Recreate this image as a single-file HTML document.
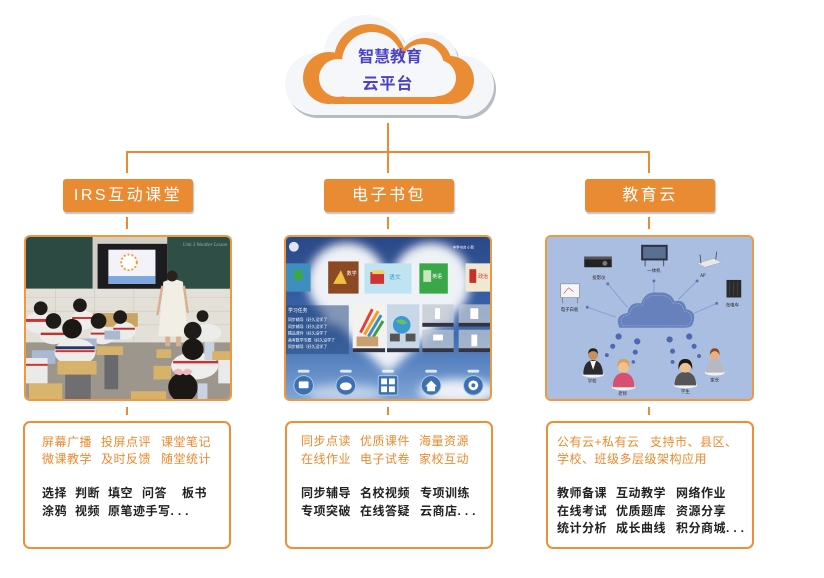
<!DOCTYPE html>
<html><head><meta charset="utf-8">
<style>
html,body{margin:0;padding:0;background:#fff;}
body{width:824px;height:578px;position:relative;overflow:hidden;font-family:"Liberation Sans","Noto Sans CJK SC",sans-serif;}
.btn{position:absolute;top:179px;height:33px;width:130px;background:#E98B33;border-radius:3px;box-shadow:1px 2px 1px rgba(120,120,130,0.45);color:#fff;font-size:16px;letter-spacing:2.5px;text-align:center;line-height:33px;font-family:"Liberation Sans","Noto Sans CJK SC",sans-serif;}
.img{position:absolute;top:235px;height:166px;width:208px;box-sizing:border-box;border:2px solid #EE9840;border-radius:6px;overflow:hidden;background:#ddd;}
.img svg{display:block;}
.box{position:absolute;top:421px;height:128px;width:208px;box-sizing:border-box;border:2px solid #EC9038;border-radius:7px;background:#fff;}
.t{position:absolute;font-size:12px;line-height:14px;letter-spacing:0.5px;white-space:nowrap;font-family:"Liberation Sans","Noto Sans CJK SC",sans-serif;}
.o{color:#EB8A2E;}
.k{color:#222;font-weight:bold;}
.d{letter-spacing:4px;}
</style></head><body>

<svg width="824" height="578" style="position:absolute;left:0;top:0" viewBox="0 0 824 578">
  <!-- cloud shadow -->
  <g fill="#B7BBC4" transform="translate(2,3)">
    <rect x="300" y="70" width="178" height="45" rx="20"/>
    <circle cx="316" cy="84" r="31"/>
    <circle cx="365" cy="57" r="42"/>
    <circle cx="428" cy="62" r="30"/>
    <circle cx="464" cy="86" r="30"/>
  </g>
  <g fill="#F5F6FA">
    <rect x="300" y="70" width="178" height="45" rx="20"/>
    <circle cx="316" cy="84" r="31"/>
    <circle cx="365" cy="57" r="42"/>
    <circle cx="428" cy="62" r="30"/>
    <circle cx="464" cy="86" r="30"/>
  </g>
  <g fill="#E98C33">
    <rect x="320" y="70" width="140" height="34" rx="15"/>
    <circle cx="329" cy="78" r="26"/>
    <circle cx="370" cy="60" r="36"/>
    <circle cx="425" cy="65" r="27"/>
    <circle cx="450" cy="80" r="24"/>
  </g>
  <g fill="#F6F7FB">
    <rect x="335" y="70" width="110" height="27" rx="12"/>
    <circle cx="338" cy="78" r="19"/>
    <circle cx="372" cy="62" r="30"/>
    <circle cx="422" cy="66" r="22"/>
    <circle cx="438" cy="78" r="18"/>
  </g>
  <text x="390" y="62" text-anchor="middle" font-size="16" font-weight="bold" fill="#4B42C8" font-family="Liberation Sans, Noto Sans CJK SC, sans-serif">智慧教育</text>
  <text x="388" y="89" text-anchor="middle" font-size="16" font-weight="bold" fill="#4B42C8" letter-spacing="1" font-family="Liberation Sans, Noto Sans CJK SC, sans-serif">云平台</text>

  <!-- connectors -->
  <g stroke="#E98B33" stroke-width="2" fill="none">
    <line x1="388" y1="123" x2="388" y2="173"/>
    <line x1="126" y1="152" x2="650" y2="152"/>
    <line x1="127" y1="152" x2="127" y2="173"/>
    <line x1="649" y1="152" x2="649" y2="173"/>
    <line x1="127" y1="217" x2="127" y2="229"/>
    <line x1="388" y1="217" x2="388" y2="229"/>
    <line x1="649" y1="217" x2="649" y2="229"/>
    <line x1="127" y1="407" x2="127" y2="415"/>
    <line x1="388" y1="407" x2="388" y2="415"/>
    <line x1="649" y1="407" x2="649" y2="415"/>
  </g>
</svg>

<div class="btn" style="left:63px;">IRS互动课堂</div>
<div class="btn" style="left:324px;">电子书包</div>
<div class="btn" style="left:585px;">教育云</div>

<!-- Left image: classroom -->
<div class="img" style="left:24px;">
<svg width="204" height="162" viewBox="0 0 208 166" preserveAspectRatio="none">
  <rect width="208" height="166" fill="#DCD8CF"/>
  <rect x="0" y="0" width="68" height="53" fill="#2D4A42"/>
  <rect x="68" y="0" width="76" height="56" fill="#D2CEC4"/>
  <rect x="144" y="0" width="64" height="57" fill="#2F4E46"/>
  <text x="160" y="9" font-size="5" fill="#9FB0A8" font-family="Liberation Serif, serif" font-style="italic">Unit 3  Weather  Lesson</text>
  <rect x="73" y="7" width="71" height="47" fill="#1C1C20"/>
  <rect x="84" y="13" width="48" height="35" fill="#F2F2F8"/>
  <rect x="84" y="40" width="48" height="8" fill="#7FA8E0"/>
  <circle cx="105" cy="26" r="8" fill="#FFF" stroke="#E8A040" stroke-width="2" stroke-dasharray="2 2"/>
  <rect x="0" y="53" width="208" height="57" fill="#E3E0D8"/>
  <g stroke="#CCC8BE" stroke-width="0.6"><line x1="0" y1="62" x2="208" y2="62"/><line x1="0" y1="76" x2="208" y2="76"/><line x1="0" y1="90" x2="208" y2="90"/><line x1="30" y1="53" x2="30" y2="110"/><line x1="70" y1="53" x2="70" y2="110"/><line x1="110" y1="53" x2="110" y2="110"/></g>
  <rect x="0" y="108" width="208" height="58" fill="#9C968C"/>
  <!-- teacher -->
  <path d="M140 46 Q150 41 160 46 L165 102 L135 102 Z" fill="#F1EEE5"/>
  <circle cx="149" cy="40" r="5.5" fill="#2A201C"/>
  <rect x="142" y="102" width="5" height="10" fill="#D8B090"/>
  <rect x="153" y="102" width="5" height="10" fill="#D8B090"/>
  <line x1="139" y1="50" x2="134" y2="80" stroke="#D8B090" stroke-width="2.5"/>
  <line x1="161" y1="50" x2="165" y2="78" stroke="#D8B090" stroke-width="2.5"/>
  <!-- back desks -->
  <rect x="68" y="78" width="46" height="14" fill="#C9A463"/>
  <!-- students left -->
  <ellipse cx="14" cy="88" rx="15" ry="11" fill="#EEEDEB"/><rect x="0" y="84" width="28" height="3" fill="#C33"/>
  <circle cx="15" cy="73" r="7" fill="#1F1B19"/>
  <ellipse cx="58" cy="85" rx="12" ry="10" fill="#EEEDEB"/><rect x="47" y="82" width="22" height="2" fill="#C33"/>
  <circle cx="55" cy="70" r="7" fill="#1F1B19"/>
  <ellipse cx="28" cy="101" rx="14" ry="9" fill="#ECECEA"/><rect x="15" y="98" width="26" height="2.5" fill="#B33"/>
  <circle cx="28" cy="86" r="8" fill="#1F1B19"/>
  <ellipse cx="78" cy="101" rx="13" ry="9" fill="#ECECEA"/><rect x="66" y="98" width="24" height="2" fill="#B33"/>
  <circle cx="74" cy="86" r="8" fill="#1F1B19"/>
  <ellipse cx="100" cy="96" rx="12" ry="9" fill="#ECECEA"/><rect x="89" y="93" width="22" height="2" fill="#B33"/>
  <circle cx="96" cy="82" r="7" fill="#1F1B19"/>
  <rect x="52" y="104" width="20" height="12" fill="#A9B9D2"/>
  <rect x="80" y="96" width="16" height="9" fill="#A9B9D2"/>
  <rect x="6" y="116" width="24" height="14" fill="#A9B9D2"/>
  <ellipse cx="50" cy="118" rx="21" ry="14" fill="#EDEDEB"/><rect x="30" y="112" width="40" height="3" fill="#2A3560"/><rect x="30" y="116" width="40" height="2" fill="#C33"/>
  <circle cx="47" cy="94" r="10" fill="#1A1715"/>
  <rect x="0" y="124" width="22" height="26" fill="#EAEAE8"/><rect x="0" y="130" width="22" height="2" fill="#C33"/>
  <rect x="32" y="127" width="40" height="14" fill="#D6B26A"/>
  <rect x="40" y="141" width="26" height="25" fill="#6F6E70"/>
  <rect x="72" y="112" width="27" height="9" fill="#D6B26A"/>
  <rect x="80" y="121" width="14" height="35" fill="#6A6A6E"/>
  <rect x="3" y="150" width="34" height="16" fill="#D8B46C"/>
  <rect x="107" y="158" width="36" height="8" fill="#D6B26A"/>
  <rect x="130" y="132" width="18" height="14" fill="#D6B26A"/>
  <rect x="133" y="115" width="15" height="9" fill="#D6B26A"/>
  <!-- students right -->
  <circle cx="180" cy="81" r="6" fill="#1F1B19"/>
  <ellipse cx="185" cy="98" rx="14" ry="9" fill="#ECECEA"/>
  <circle cx="170" cy="96" r="9" fill="#1F1B19"/>
  <ellipse cx="172" cy="132" rx="24" ry="14" fill="#EEEEEC"/><rect x="150" y="127" width="50" height="2.5" fill="#C33"/>
  <circle cx="170" cy="115" r="11" fill="#1A1715"/>
  <rect x="182" y="108" width="10" height="18" fill="#C8D2E2"/>
  <rect x="190" y="117" width="18" height="9" fill="#D6B26A"/>
  <rect x="196" y="126" width="12" height="24" fill="#EAEAE8"/>
  <circle cx="160" cy="154" r="15" fill="#1A1715"/>
  <path d="M150 138 Q156 132 160 138 Q164 132 170 138 Q164 144 160 140 Q156 144 150 138Z" fill="#F0B8B8"/>
  <rect x="175" y="150" width="10" height="16" fill="#C8D2E2"/>
</svg>
</div>

<!-- Middle image: e-bag -->
<div class="img" style="left:284px;">
<svg width="204" height="162" viewBox="0 0 208 166" preserveAspectRatio="none">
  <defs>
    <linearGradient id="mg" x1="0" y1="0" x2="0" y2="1"><stop offset="0" stop-color="#2A4888"/><stop offset="0.6" stop-color="#3D6AB0"/><stop offset="1" stop-color="#7EA6D6"/></linearGradient>
    <filter id="bl" x="-20%" y="-20%" width="140%" height="140%"><feGaussianBlur stdDeviation="5"/></filter>
  </defs>
  <rect width="208" height="166" fill="url(#mg)"/>
  <g filter="url(#bl)" fill="#EEF1F6">
    <circle cx="62" cy="46" r="40"/>
    <circle cx="148" cy="46" r="40"/>
    <path d="M24 62 L104 140 L186 62 Z"/>
    <rect x="40" y="40" width="130" height="50"/>
    <ellipse cx="175" cy="158" rx="40" ry="12"/>
    <ellipse cx="60" cy="160" rx="40" ry="9" opacity="0.6"/>
  </g>
  <circle cx="8" cy="10" r="5" fill="#fff" opacity="0.85"/>
  <text x="170" y="12" font-size="3.5" fill="#fff" font-family="Noto Sans CJK SC, sans-serif">中学书台   小新</text>
  <!-- book tiles -->
  <rect x="0" y="27" width="25" height="29" fill="#3E8EC0"/><rect x="8" y="34" width="9" height="10" fill="#3AA848"/>
  <rect x="43" y="25" width="31" height="33" fill="#8B4A22"/><path d="M48 48 L56 34 L62 48 Z" fill="#F0C040"/>
  <text x="62" y="39" font-size="5" fill="#fff" font-family="Noto Sans CJK SC, sans-serif">数学</text>
  <rect x="80" y="27" width="48" height="31" fill="#BFE3F0"/><rect x="86" y="36" width="14" height="12" fill="#C33"/><rect x="88" y="34" width="12" height="4" fill="#F0D060"/>
  <text x="105" y="43" font-size="6" fill="#3A9AC8" font-family="Noto Sans CJK SC, sans-serif">语文</text>
  <rect x="136" y="27" width="29" height="31" fill="#3AA848"/><rect x="140" y="34" width="8" height="12" fill="#C8E8C0"/>
  <text x="149" y="42" font-size="5" fill="#fff" font-family="Noto Sans CJK SC, sans-serif">英语</text>
  <rect x="183" y="27" width="25" height="29" fill="#F0E8D0"/><rect x="187" y="33" width="7" height="14" fill="#C8302A"/>
  <text x="196" y="42" font-size="5" fill="#C8302A" font-family="Noto Sans CJK SC, sans-serif">政治</text>
  <!-- left panel -->
  <rect x="0" y="70" width="64" height="50" fill="#2A4A80" opacity="0.55"/>
  <g font-size="4" fill="#fff" font-family="Noto Sans CJK SC, sans-serif">
    <text x="2" y="77" font-size="5">学习任务</text>
    <text x="2" y="86">同步辅导（好久没学了</text>
    <text x="2" y="93">同步辅导（好久没学了</text>
    <text x="2" y="100">精品课件（好久没学了</text>
    <text x="2" y="107">高考数学专题（好久没学了</text>
    <text x="2" y="114">同步辅导（好久没学了</text>
  </g>
  <!-- middle tiles -->
  <rect x="68" y="69" width="33" height="49" fill="#F4F2EE"/>
  <g stroke-width="3"><line x1="76" y1="98" x2="88" y2="74" stroke="#E04040"/><line x1="80" y1="100" x2="94" y2="76" stroke="#F0A020"/><line x1="84" y1="102" x2="97" y2="80" stroke="#3A8AD0"/><line x1="88" y1="104" x2="99" y2="86" stroke="#40A040"/></g>
  <rect x="72" y="102" width="22" height="10" fill="#C8A070"/>
  <rect x="103" y="69" width="33" height="49" fill="#C8D8E6"/>
  <circle cx="118" cy="90" r="9" fill="#3A9AD0"/><path d="M112 86 Q118 82 124 88 Q118 92 112 86Z" fill="#6AC060"/>
  <rect x="106" y="99" width="10" height="8" fill="#555"/><rect x="122" y="99" width="10" height="8" fill="#555"/>
  <g fill="#C0C8D4" opacity="0.75">
    <rect x="139" y="69" width="32" height="23"/><rect x="176" y="69" width="32" height="23"/>
    <rect x="139" y="95" width="32" height="23"/><rect x="176" y="95" width="32" height="23"/>
  </g>
  <g fill="#fff"><rect x="188" y="73" width="8" height="11"/><rect x="150" y="100" width="10" height="6"/><rect x="189" y="100" width="6" height="12"/><rect x="152" y="73" width="5" height="11"/></g>
  <rect x="68" y="114" width="33" height="4" fill="#334"/><rect x="103" y="114" width="33" height="4" fill="#334"/>
  <rect x="139" y="88" width="32" height="4" fill="#334"/><rect x="176" y="88" width="32" height="4" fill="#334"/>
  <rect x="139" y="114" width="32" height="4" fill="#334"/><rect x="176" y="114" width="32" height="4" fill="#334"/>
  <!-- nav -->
  <g fill="#3E70B0" stroke="#A8C8EC" stroke-width="1">
    <circle cx="18" cy="152" r="10"/><circle cx="61" cy="152" r="10"/><circle cx="148" cy="152" r="10"/><circle cx="191" cy="152" r="10"/>
  </g>
  <rect x="94" y="142" width="20" height="20" rx="2" fill="#3E70B0" stroke="#A8C8EC"/>
  <g fill="#fff">
    <rect x="13" y="148" width="10" height="7" rx="1"/>
    <ellipse cx="61" cy="153" rx="6" ry="4"/>
    <path d="M142 153 L148 147 L154 153 L152 153 L152 158 L144 158 L144 153Z"/>
    <circle cx="191" cy="152" r="5"/>
    <rect x="97" y="145" width="6" height="6"/><rect x="105" y="145" width="6" height="6"/><rect x="97" y="153" width="6" height="6"/><rect x="105" y="153" width="6" height="6"/>
  </g>
  <circle cx="191" cy="152" r="2" fill="#3E70B0"/>
  <g fill="#fff" opacity="0.8"><rect x="12" y="136" width="12" height="3" rx="1.5"/><rect x="55" y="136" width="12" height="3" rx="1.5"/><rect x="98" y="136" width="12" height="3" rx="1.5"/><rect x="142" y="136" width="12" height="3" rx="1.5"/><rect x="185" y="136" width="12" height="3" rx="1.5"/></g>
</svg>
</div>

<!-- Right image: education cloud -->
<div class="img" style="left:545px;width:209px;">
<svg width="205" height="162" viewBox="0 0 209 166" preserveAspectRatio="none">
  <rect width="209" height="166" fill="#AABEE2"/>
  <g stroke="#7F98CC" stroke-width="0.8">
    <line x1="70" y1="82" x2="41" y2="72"/>
    <line x1="82" y1="72" x2="62" y2="48"/>
    <line x1="109" y1="60" x2="109" y2="45"/>
    <line x1="134" y1="64" x2="153" y2="45"/>
    <line x1="146" y1="80" x2="173" y2="68"/>
  </g>
  <g fill="#5A74B8">
    <circle cx="41" cy="72" r="1.5"/><circle cx="62" cy="48" r="1.5"/><circle cx="109" cy="45" r="1.5"/><circle cx="153" cy="45" r="1.5"/><circle cx="173" cy="68" r="1.5"/>
  </g>
  <path d="M74 93 Q68 80 82 78 Q84 66 96 68 Q100 55 114 57 Q126 56 130 66 Q140 63 142 74 Q153 76 149 88 Q148 93 140 93 Z" fill="#6681BC"/>
  <path d="M77 91 Q72 81 84 80 Q86 69 97 70 Q101 58 114 60 Q125 59 128 68 Q138 66 140 76 Q150 78 146 88 Q145 91 139 91 Z" fill="none" stroke="#9EB2DC" stroke-width="0.6" stroke-dasharray="1.5 1"/>
  <g fill="#5068B0">
    <circle cx="73" cy="102" r="3.2"/><circle cx="92" cy="107" r="3.2"/><circle cx="67" cy="112" r="2.6"/><circle cx="90" cy="118" r="2.6"/><circle cx="61" cy="121" r="2"/><circle cx="88" cy="128" r="1.8"/>
    <circle cx="125" cy="105" r="3.2"/><circle cx="145" cy="102" r="3.2"/><circle cx="128" cy="117" r="2.6"/><circle cx="150" cy="112" r="2.6"/><circle cx="128" cy="128" r="2"/><circle cx="155" cy="122" r="2"/>
  </g>
  <!-- devices -->
  <rect x="14" y="48" width="19" height="14" fill="#F6F6F8" stroke="#888" stroke-width="0.6"/>
  <path d="M17 58 L22 52 L27 56" stroke="#D04040" stroke-width="0.6" fill="none"/>
  <line x1="16" y1="62" x2="16" y2="68" stroke="#666" stroke-width="0.6"/><line x1="31" y1="62" x2="31" y2="68" stroke="#666" stroke-width="0.6"/>
  <rect x="38" y="20" width="28" height="11" fill="#222"/><rect x="38" y="20" width="28" height="3" fill="#555"/><circle cx="59" cy="27" r="2.5" fill="#777"/>
  <rect x="96" y="8" width="27" height="16" fill="#2A3040"/><rect x="98" y="10" width="23" height="12" fill="#5A7090"/>
  <line x1="100" y1="24" x2="100" y2="30" stroke="#333" stroke-width="0.8"/><line x1="119" y1="24" x2="119" y2="30" stroke="#333" stroke-width="0.8"/>
  <path d="M153 27 L170 22 L178 26 L161 31 Z" fill="#E8E8EC" stroke="#999" stroke-width="0.4"/>
  <line x1="157" y1="27" x2="156" y2="18" stroke="#444" stroke-width="0.8"/><line x1="172" y1="23" x2="173" y2="15" stroke="#444" stroke-width="0.8"/>
  <rect x="183" y="44" width="15" height="18" fill="#2A2A2A"/><g stroke="#555" stroke-width="0.5"><line x1="186" y1="46" x2="186" y2="60"/><line x1="190" y1="46" x2="190" y2="60"/><line x1="194" y1="46" x2="194" y2="60"/></g>
  <g font-size="4.5" fill="#222" font-family="Noto Sans CJK SC, sans-serif" text-anchor="middle">
    <text x="23" y="76">电子白板</text>
    <text x="53" y="43">投影仪</text>
    <text x="109" y="36">一体机</text>
    <text x="159" y="41">AP</text>
    <text x="189" y="71">充电车</text>
    <text x="46" y="149">学校</text>
    <text x="77" y="162">老师</text>
    <text x="141" y="160">学生</text>
    <text x="171" y="148">家长</text>
  </g>
  <!-- people -->
  <ellipse cx="47" cy="141" rx="11" ry="3" fill="#F2F2F2"/>
  <path d="M37 141 Q37 127 47 126 Q57 127 57 141 Z" fill="#2A2A30"/>
  <path d="M44 127 L47 136 L50 127 Z" fill="#fff"/>
  <circle cx="47" cy="121" r="5" fill="#C89060"/><path d="M42 120 Q42 114 47 114 Q52 114 52 120 Q50 117 47 117 Q44 117 42 120Z" fill="#222"/>
  <ellipse cx="78" cy="154" rx="12" ry="3" fill="#F2F2F2"/>
  <path d="M67 154 Q67 140 78 139 Q89 140 89 154 Z" fill="#D85070"/>
  <circle cx="78" cy="133" r="6" fill="#F0C090"/><path d="M72 134 Q71 125 78 125 Q85 125 84 134 Q82 128 78 128 Q74 128 72 134Z" fill="#D8A050"/>
  <ellipse cx="141" cy="152" rx="12" ry="3" fill="#F2F2F2"/>
  <path d="M130 152 Q130 139 141 138 Q152 139 152 152 Z" fill="#555"/>
  <circle cx="141" cy="133" r="6" fill="#F0C090"/><path d="M134 136 Q133 125 141 125 Q149 125 148 136 Q146 129 141 129 Q136 129 134 136Z" fill="#1A1A1A"/>
  <ellipse cx="171" cy="139" rx="10" ry="3" fill="#F2F2F2"/>
  <path d="M162 139 Q162 127 171 126 Q180 127 180 139 Z" fill="#B8B8C0"/>
  <circle cx="171" cy="121" r="5" fill="#E8B080"/><path d="M166 121 Q166 114 171 114 Q176 114 176 121 Q174 117 171 117 Q168 117 166 121Z" fill="#8A4A20"/>
</svg>
</div>

<!-- text boxes -->
<div class="box" style="left:23px;"></div>
<div class="box" style="left:285px;"></div>
<div class="box" style="left:546px;"></div>

<!-- left box text -->
<span class="t o" style="left:42px;top:435px;">屏幕广播</span>
<span class="t o" style="left:101px;top:435px;">投屏点评</span>
<span class="t o" style="left:161px;top:435px;">课堂笔记</span>
<span class="t o" style="left:42px;top:452px;">微课教学</span>
<span class="t o" style="left:101px;top:452px;">及时反馈</span>
<span class="t o" style="left:161px;top:452px;">随堂统计</span>
<span class="t k" style="left:42px;top:486px;">选择</span>
<span class="t k" style="left:75px;top:486px;">判断</span>
<span class="t k" style="left:108px;top:486px;">填空</span>
<span class="t k" style="left:142px;top:486px;">问答</span>
<span class="t k" style="left:182px;top:486px;">板书</span>
<span class="t k" style="left:42px;top:504px;">涂鸦</span>
<span class="t k" style="left:75px;top:504px;">视频</span>
<span class="t k" style="left:108px;top:504px;">原笔迹手写<span class="d">...</span></span>

<!-- middle box text -->
<span class="t o" style="left:301px;top:434px;">同步点读</span>
<span class="t o" style="left:360px;top:434px;">优质课件</span>
<span class="t o" style="left:419px;top:434px;">海量资源</span>
<span class="t o" style="left:301px;top:452px;">在线作业</span>
<span class="t o" style="left:360px;top:452px;">电子试卷</span>
<span class="t o" style="left:419px;top:452px;">家校互动</span>
<span class="t k" style="left:301px;top:486px;">同步辅导</span>
<span class="t k" style="left:360px;top:486px;">名校视频</span>
<span class="t k" style="left:420px;top:486px;">专项训练</span>
<span class="t k" style="left:301px;top:504px;">专项突破</span>
<span class="t k" style="left:360px;top:504px;">在线答疑</span>
<span class="t k" style="left:420px;top:504px;">云商店<span class="d">...</span></span>

<!-- right box text -->
<span class="t o" style="left:557px;top:435px;">公有云+私有云</span>
<span class="t o" style="left:650px;top:435px;">支持市、县区、</span>
<span class="t o" style="left:557px;top:452px;">学校、班级多层级架构应用</span>
<span class="t k" style="left:557px;top:486px;">教师备课</span>
<span class="t k" style="left:616px;top:486px;">互动教学</span>
<span class="t k" style="left:676px;top:486px;">网络作业</span>
<span class="t k" style="left:557px;top:504px;">在线考试</span>
<span class="t k" style="left:616px;top:504px;">优质题库</span>
<span class="t k" style="left:676px;top:504px;">资源分享</span>
<span class="t k" style="left:557px;top:521px;">统计分析</span>
<span class="t k" style="left:616px;top:521px;">成长曲线</span>
<span class="t k" style="left:676px;top:521px;">积分商城<span class="d">...</span></span>

</body></html>
